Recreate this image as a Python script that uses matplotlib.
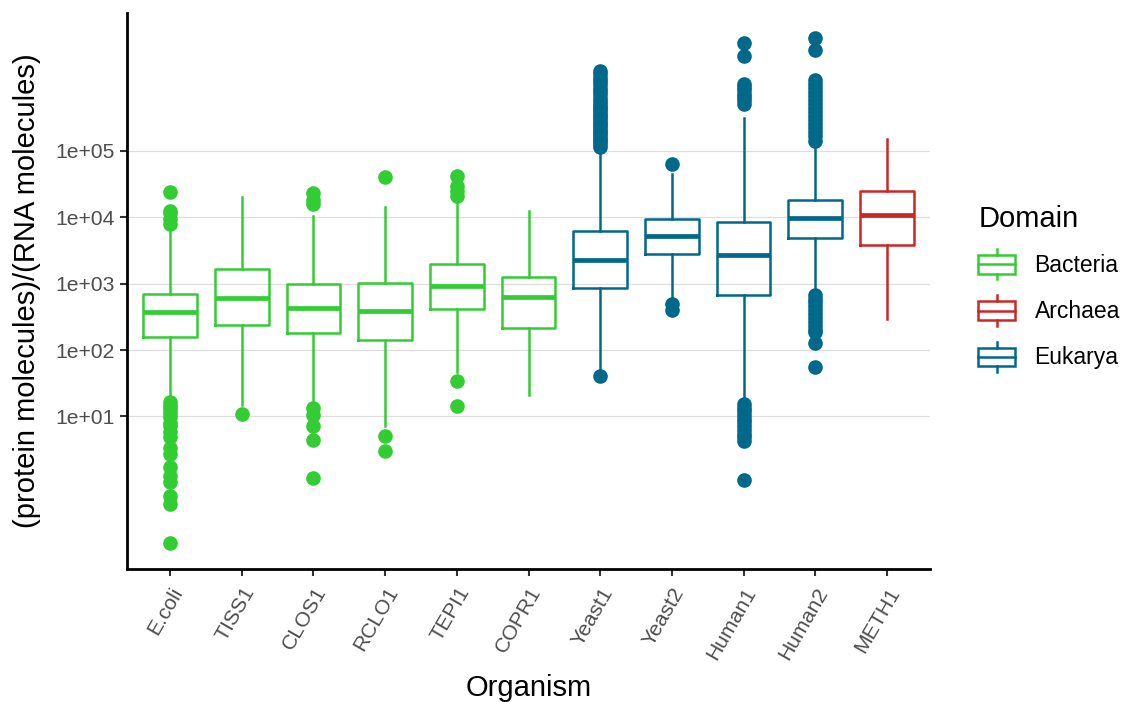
import matplotlib
matplotlib.use('Agg')
import matplotlib.pyplot as plt
from matplotlib.legend_handler import HandlerBase
from matplotlib.lines import Line2D
from matplotlib.patches import Rectangle

plt.rcParams['font.family'] = ['Liberation Sans', 'DejaVu Sans']

# organisms and their domain
organisms = ['E.coli', 'TISS1', 'CLOS1', 'RCLO1', 'TEPI1', 'COPR1',
             'Yeast1', 'Yeast2', 'Human1', 'Human2', 'METH1']
domains = ['Bacteria'] * 6 + ['Eukarya'] * 4 + ['Archaea']

# box statistics
whislo = [18.7, 15, 15.9, 7.2, 46, 21.3, 52, 562, 17.6, 775, 296]
q1 = [158, 241, 179, 141, 418, 217, 869, 2825, 681, 4910, 3850]
med = [367, 614, 429, 392, 914, 638, 2244, 5240, 2690, 9680, 10740]
q3 = [708, 1671, 1000, 1026, 1972, 1259, 6180, 9440, 8510, 18400, 24700]
whishi = [6430, 19860, 10450, 14220, 17900, 12190, 107000, 45200, 309000, 115000, 149000]

# outliers
fliers = [
    [24100, 12500, 11430, 9440, 7780,
     16.5, 14.5, 12.8, 11.2, 9.9, 8.1, 7.2, 5.9, 4.9, 3.3, 2.7, 1.75, 1.27, 1.04, 0.63, 0.48, 0.123],
    [10.9],
    [23200, 17900, 15780, 13.6, 10.5, 7.2, 4.4, 1.19],
    [39700, 5.0, 3.03],
    [41300, 29900, 24700, 20900, 34.7, 14.5],
    [],
    [115000, 126000, 138000, 151000, 166000, 182000, 200000, 219000, 240000, 263000,
     288000, 316000, 347000, 380000, 417000, 457000, 501000, 562000, 631000, 708000,
     794000, 891000, 1000000, 1120000, 1260000, 1410000, 1580000, 41],
    [62200, 495, 407],
    [4180000, 2670000, 1020000, 910000, 812000, 724000, 646000, 573000, 510000,
     15.4, 13.5, 12.0, 10.6, 9.3, 8.2, 7.2, 6.3, 5.5, 4.9, 4.3, 1.11],
    [4940000, 3320000, 1160000, 1000000, 871000, 759000, 661000, 575000, 501000,
     437000, 380000, 331000, 288000, 251000, 219000, 191000, 166000, 140000,
     681, 595, 520, 454, 396, 346, 302, 264, 231, 201, 189, 128, 55.7],
    [],
]

domain_colors = {'Bacteria': '#32CD32', 'Archaea': '#CD2626', 'Eukarya': '#00688B'}

fig = plt.figure(figsize=(11.27, 7.02), dpi=100)
ax = fig.add_axes([0.1127, 0.19, 0.7125, 0.791])

for i, org in enumerate(organisms):
    c = domain_colors[domains[i]]
    stats = [{'med': med[i], 'q1': q1[i], 'q3': q3[i], 'whislo': whislo[i],
              'whishi': whishi[i], 'fliers': fliers[i], 'label': org}]
    ax.bxp(stats, positions=[i], widths=0.75, showcaps=False, patch_artist=False,
           boxprops=dict(color=c, lw=1.8),
           whiskerprops=dict(color=c, lw=1.8),
           medianprops=dict(color=c, lw=3.4, solid_capstyle='butt'),
           flierprops=dict(marker='o', markerfacecolor=c, markeredgecolor=c,
                           markersize=9.5, linestyle='none'),
           zorder=3)

ax.set_yscale('log')
ax.set_ylim(10 ** -1.29, 10 ** 7.067)
ax.set_xlim(-0.6, 10.6)
ax.set_yticks([1e1, 1e2, 1e3, 1e4, 1e5])
ax.set_yticklabels(['1e+01', '1e+02', '1e+03', '1e+04', '1e+05'])
ax.minorticks_off()
ax.set_xticks(range(len(organisms)))
ax.set_xticklabels(organisms, rotation=60, ha='right', va='top',
                   rotation_mode='anchor')
ax.yaxis.grid(True, color='#DEDEDE', lw=0.9, zorder=0)
ax.set_axisbelow(True)

for s in ['top', 'right']:
    ax.spines[s].set_visible(False)
for s in ['left', 'bottom']:
    ax.spines[s].set_linewidth(2.0)
    ax.spines[s].set_color('black')

ax.tick_params(axis='both', labelsize=15.2, labelcolor='#4D4D4D',
               width=1.5, length=5, color='#333333', pad=4)
ax.tick_params(axis='x', pad=6)
ax.set_xlabel('Organism', fontsize=21, labelpad=8)
ax.set_ylabel('(protein molecules)/(RNA molecules)', fontsize=21, labelpad=10)


class BoxKey(HandlerBase):
    def create_artists(self, legend, orig_handle, xdescent, ydescent,
                       width, height, fontsize, trans):
        c = orig_handle.get_color()
        x0, y0 = -xdescent, -ydescent
        cx = x0 + width / 2
        rect = Rectangle((x0, y0 + height * 0.19), width, height * 0.62,
                         fill=False, ec=c, lw=1.8, transform=trans)
        mid = Line2D([x0, x0 + width], [y0 + height / 2] * 2, color=c, lw=1.8,
                     transform=trans)
        lo = Line2D([cx, cx], [y0, y0 + height * 0.19], color=c,
                    lw=1.8, transform=trans)
        hi = Line2D([cx, cx], [y0 + height * 0.81, y0 + height], color=c,
                    lw=1.8, transform=trans)
        return [rect, mid, lo, hi]


handles = [Line2D([], [], color=domain_colors[d]) for d in ['Bacteria', 'Archaea', 'Eukarya']]
leg = fig.legend(handles, ['Bacteria', 'Archaea', 'Eukarya'], title='Domain',
                 handler_map={Line2D: BoxKey()}, loc='center left',
                 bbox_to_anchor=(0.858, 0.589), frameon=False, fontsize=16.5,
                 title_fontsize=21, handlelength=1.6, handleheight=1.66,
                 labelspacing=0.7, handletextpad=0.85, borderpad=0,
                 alignment='left')

fig.savefig('out.png', dpi=100)
